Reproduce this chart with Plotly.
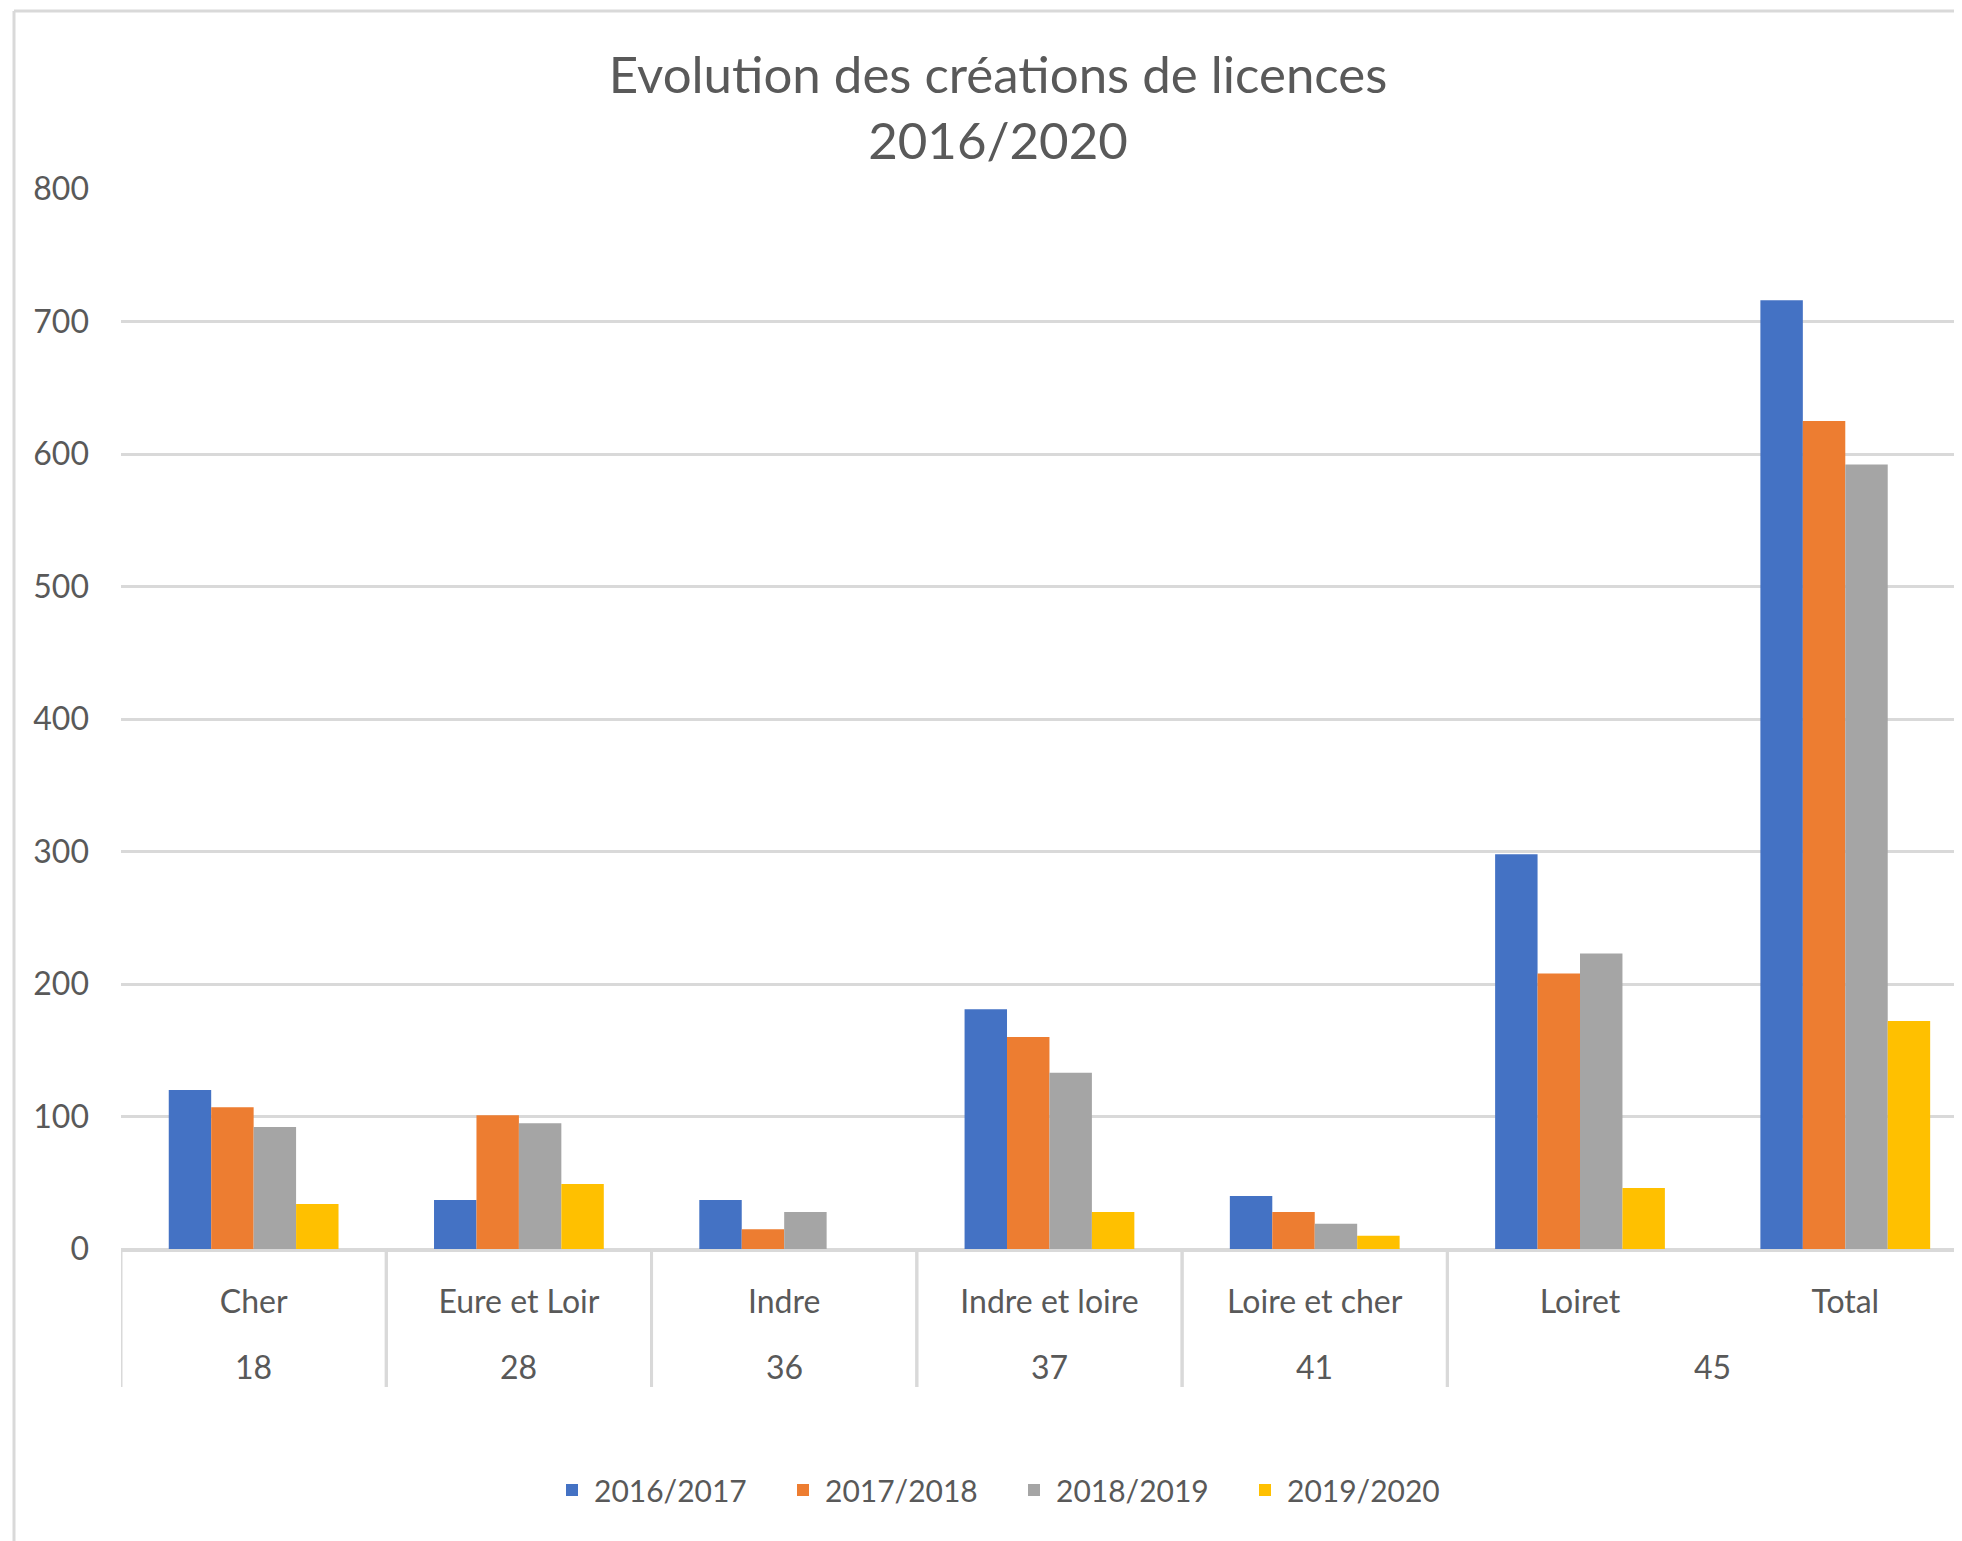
import plotly.graph_objects as go

# ---- data ----
departements = ["18", "28", "36", "37", "41", "45", "45"]
categories = ["Cher", "Eure et Loir", "Indre", "Indre et loire", "Loire et cher", "Loiret", "Total"]
series_names = ["2016/2017", "2017/2018", "2018/2019", "2019/2020"]
v_2016_2017 = [120, 37, 37, 181, 40, 298, 716]
v_2017_2018 = [107, 101, 15, 160, 28, 208, 625]
v_2018_2019 = [92, 95, 28, 133, 19, 223, 592]
v_2019_2020 = [34, 49, 0, 28, 10, 46, 172]
y_ticks = [0, 100, 200, 300, 400, 500, 600, 700, 800]

colors = ["#4472C4", "#ED7D31", "#A5A5A5", "#FFC000"]
series_values = [v_2016_2017, v_2017_2018, v_2018_2019, v_2019_2020]

OFF = 8  # page body margin
W, H = 1962 - OFF, 1541 - OFF
L, R, T = 121 - OFF, 0, 189 - OFF
PLOT_BOTTOM = 1249 - OFF
B = H - PLOT_BOTTOM
pw, ph = W - L - R, H - T - B

FONT = "Lato"
TXT = "#595959"
GRID = "#D9D9D9"

fig = go.Figure()
for name, vals, col in zip(series_names, series_values, colors):
    fig.add_trace(go.Bar(
        x=categories, y=vals, name=name,
        marker=dict(color=col, line=dict(width=0)),
    ))


def px_x(p):  # page px -> paper x
    return (p - OFF - L) / pw


def px_y(p):  # page px -> paper y
    return (PLOT_BOTTOM - (p - OFF)) / ph


# outer (departement) labels and dividers, derived from the data lists
groups = []
for i, d in enumerate(departements):
    if groups and groups[-1][0] == d:
        groups[-1][2] = i
    else:
        groups.append([d, i, i])

annotations = []
shapes = []
for d, i0, i1 in groups:
    annotations.append(dict(
        text=d, x=(i0 + i1) / 2, xref="x", y=px_y(1366), yref="paper",
        xanchor="center", yanchor="middle", showarrow=False,
        font=dict(family=FONT, size=32, color=TXT),
    ))
    for xb in (i0 - 0.5, i1 + 0.5):
        shapes.append(dict(
            type="line", xref="x", yref="paper",
            x0=xb, x1=xb, y0=0, y1=px_y(1387),
            line=dict(color=GRID, width=3),
        ))

# chart border (left and top edges visible)
shapes += [
    dict(type="line", xref="paper", yref="paper",
         x0=px_x(14), x1=px_x(14), y0=px_y(11), y1=px_y(1560),
         line=dict(color=GRID, width=3)),
    dict(type="line", xref="paper", yref="paper",
         x0=px_x(14), x1=px_x(1990), y0=px_y(11), y1=px_y(11),
         line=dict(color=GRID, width=3)),
]

fig.update_layout(
    width=W, height=H,
    margin=dict(l=L, r=R, t=T, b=B, autoexpand=False),
    paper_bgcolor="white", plot_bgcolor="white",
    barmode="group", bargap=0.36, bargroupgap=0,
    font=dict(family=FONT, color=TXT, size=32),
    title=dict(
        text="Evolution des créations de licences<br>2016/2020",
        x=(998 - OFF) / W, xref="container", xanchor="center",
        y=1 - (93 - OFF) / H, yref="container", yanchor="middle",
        font=dict(family=FONT, size=51, color=TXT),
    ),
    xaxis=dict(
        type="category",
        range=[-0.5, 6.44],
        showgrid=False,
        showline=True, linecolor=GRID, linewidth=3,
        tickfont=dict(family=FONT, size=32, color=TXT),
        ticks="", ticklabelstandoff=23,
    ),
    yaxis=dict(
        range=[0, 800], tickvals=y_ticks,
        showgrid=True, gridcolor=GRID, gridwidth=3,
        zeroline=True, zerolinecolor=GRID, zerolinewidth=3,
        showline=False, ticks="",
        tickfont=dict(family=FONT, size=32, color=TXT),
        ticklabelstandoff=31,
    ),
    legend=dict(
        orientation="h", x=px_x(1012), xanchor="center",
        y=px_y(1490), yanchor="middle",
        font=dict(family=FONT, size=30, color=TXT),
        itemwidth=34, traceorder="normal",
        entrywidth=182, entrywidthmode="pixels",
    ),
    showlegend=True,
    annotations=annotations,
    shapes=shapes,
)

fig.write_html("out.html")
